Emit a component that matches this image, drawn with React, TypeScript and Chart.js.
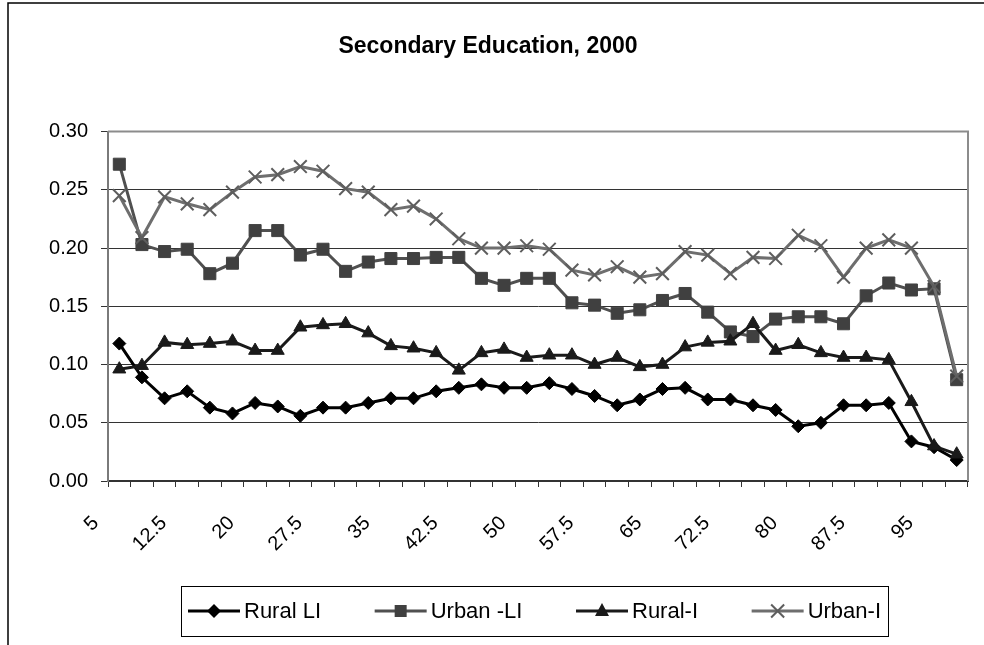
import React, { useEffect, useRef } from 'react';
import { Chart, registerables } from 'chart.js';

Chart.register(...registerables);

const TITLE = 'Secondary Education, 2000';

const categories = [
  '5', '7.5', '10', '12.5', '15', '17.5', '20', '22.5', '25', '27.5',
  '30', '32.5', '35', '37.5', '40', '42.5', '45', '47.5', '50', '52.5',
  '55', '57.5', '60', '62.5', '65', '67.5', '70', '72.5', '75', '77.5',
  '80', '82.5', '85', '87.5', '90', '92.5', '95', '97.5',
];

const ruralLI = [
  0.118, 0.089, 0.071, 0.077, 0.063, 0.058, 0.067, 0.064, 0.056, 0.063,
  0.063, 0.067, 0.071, 0.071, 0.077, 0.080, 0.083, 0.080, 0.080, 0.084,
  0.079, 0.073, 0.065, 0.070, 0.079, 0.080, 0.070, 0.070, 0.065, 0.061,
  0.047, 0.050, 0.065, 0.065, 0.067, 0.034, 0.029, 0.018,
];

const urbanLI = [
  0.272, 0.203, 0.197, 0.199, 0.178, 0.187, 0.215, 0.215, 0.194, 0.199,
  0.180, 0.188, 0.191, 0.191, 0.192, 0.192, 0.174, 0.168, 0.174, 0.174,
  0.153, 0.151, 0.144, 0.147, 0.155, 0.161, 0.145, 0.128, 0.124, 0.139,
  0.141, 0.141, 0.135, 0.159, 0.170, 0.164, 0.165, 0.087,
];

const ruralI = [
  0.096, 0.099, 0.119, 0.117, 0.118, 0.120, 0.112, 0.112, 0.132, 0.134,
  0.135, 0.127, 0.116, 0.114, 0.110, 0.095, 0.110, 0.113, 0.106, 0.108,
  0.108, 0.100, 0.106, 0.098, 0.100, 0.115, 0.119, 0.120, 0.135, 0.112,
  0.117, 0.110, 0.106, 0.106, 0.104, 0.068, 0.030, 0.023,
];

const urbanI = [
  0.245, 0.209, 0.244, 0.238, 0.233, 0.248, 0.261, 0.263, 0.270, 0.266,
  0.251, 0.248, 0.233, 0.236, 0.225, 0.208, 0.200, 0.200, 0.202, 0.199,
  0.181, 0.177, 0.184, 0.175, 0.178, 0.197, 0.194, 0.178, 0.192, 0.191,
  0.211, 0.202, 0.175, 0.200, 0.207, 0.200, 0.167, 0.090,
];

const seriesNames = ['Rural LI', 'Urban -LI', 'Rural-I', 'Urban-I'];
const yTicks = [0, 0.05, 0.1, 0.15, 0.2, 0.25, 0.3];

const FONT = '"Liberation Sans", Arial, sans-serif';

type Sym = 'diamond' | 'square' | 'triangle' | 'cross';
const styles: { line: string; marker: string; sym: Sym; radius: number; style: string }[] = [
  { line: '#000000', marker: '#000000', sym: 'diamond', radius: 6.5, style: 'rectRot' },
  { line: '#505050', marker: '#404040', sym: 'square', radius: 8.5, style: 'rect' },
  { line: '#1a1a1a', marker: '#1a1a1a', sym: 'triangle', radius: 7.5, style: 'triangle' },
  { line: '#6e6e6e', marker: '#5e5e5e', sym: 'cross', radius: 9, style: 'crossRot' },
];

function drawSymbol(ctx: CanvasRenderingContext2D, sym: Sym, x: number, y: number, color: string) {
  ctx.save();
  ctx.fillStyle = color;
  ctx.strokeStyle = color;
  ctx.beginPath();
  if (sym === 'diamond') {
    ctx.moveTo(x, y - 7); ctx.lineTo(x + 7, y); ctx.lineTo(x, y + 7); ctx.lineTo(x - 7, y);
    ctx.closePath(); ctx.fill();
  } else if (sym === 'square') {
    ctx.rect(x - 6, y - 6, 12, 12); ctx.fill();
  } else if (sym === 'triangle') {
    ctx.moveTo(x, y - 8); ctx.lineTo(x + 7, y + 5); ctx.lineTo(x - 7, y + 5);
    ctx.closePath(); ctx.fill();
  } else {
    ctx.lineWidth = 2;
    ctx.moveTo(x - 6.5, y - 6.5); ctx.lineTo(x + 6.5, y + 6.5);
    ctx.moveTo(x + 6.5, y - 6.5); ctx.lineTo(x - 6.5, y + 6.5);
    ctx.stroke();
  }
  ctx.restore();
}

const decorPlugin = {
  id: 'decor',
  beforeDraw(chart: any) {
    const ctx = chart.ctx as CanvasRenderingContext2D;
    ctx.save();
    ctx.fillStyle = '#ffffff';
    ctx.fillRect(0, 0, chart.width, chart.height);
    ctx.strokeStyle = '#000000';
    ctx.lineWidth = 1.5;
    ctx.beginPath();
    ctx.moveTo(8, chart.height + 5);
    ctx.lineTo(8, 3);
    ctx.lineTo(chart.width + 5, 3);
    ctx.stroke();
    ctx.restore();
  },
  beforeDatasetsDraw(chart: any) {
    const ctx = chart.ctx as CanvasRenderingContext2D;
    const a = chart.chartArea;
    ctx.save();
    ctx.strokeStyle = '#8c8c8c';
    ctx.lineWidth = 2;
    ctx.beginPath();
    ctx.moveTo(a.left, a.top);
    ctx.lineTo(a.right, a.top);
    ctx.lineTo(a.right, a.bottom);
    ctx.stroke();
    ctx.restore();
  },
  afterDraw(chart: any) {
    const ctx = chart.ctx as CanvasRenderingContext2D;
    const boxL = 181, boxT = 586, boxW = 707, boxH = 50;
    ctx.save();
    ctx.strokeStyle = '#000000';
    ctx.lineWidth = 1;
    ctx.strokeRect(boxL + 0.5, boxT + 0.5, boxW, boxH);
    ctx.font = '22px ' + FONT;
    ctx.textBaseline = 'middle';
    ctx.fillStyle = '#000000';
    const cy = boxT + boxH / 2;
    const lineLen = 52;
    const textGap = 4;
    const widths = seriesNames.map((n) => ctx.measureText(n).width);
    const used = widths.reduce((s, w) => s + w + lineLen + textGap, 0);
    const margin = 7;
    const gap = (boxW - 2 * margin - used) / 3;
    let x = boxL + margin;
    seriesNames.forEach((name, i) => {
      const st = styles[i];
      ctx.strokeStyle = st.line;
      ctx.lineWidth = 3;
      ctx.beginPath();
      ctx.moveTo(x, cy);
      ctx.lineTo(x + lineLen, cy);
      ctx.stroke();
      drawSymbol(ctx, st.sym, x + lineLen / 2, cy, st.marker);
      ctx.fillStyle = '#000000';
      ctx.fillText(name, x + lineLen + textGap, cy + 1);
      x += lineLen + textGap + widths[i] + gap;
    });
    ctx.restore();
  },
};

export default function App() {
  const ref = useRef<HTMLCanvasElement | null>(null);

  useEffect(() => {
    document.body.style.margin = '0';
    const canvas = ref.current;
    if (!canvas) return;
    const allSeries = [ruralLI, urbanLI, ruralI, urbanI];
    const chart = new Chart(canvas, {
      type: 'line',
      data: {
        labels: categories,
        datasets: allSeries.map((values, i) => ({
          label: seriesNames[i],
          data: values,
          borderColor: styles[i].line,
          backgroundColor: styles[i].marker,
          pointBackgroundColor: styles[i].marker,
          pointBorderColor: styles[i].marker,
          pointBorderWidth: styles[i].sym === 'cross' ? 2 : 1,
          pointStyle: styles[i].style as any,
          pointRadius: styles[i].radius,
          borderWidth: 3,
          tension: 0,
          fill: false,
          order: 4 - i,
        })),
      },
      options: {
        responsive: false,
        animation: false,
        devicePixelRatio: 1,
        layout: { padding: { left: 8, right: 16, top: 0, bottom: 54 } },
        plugins: {
          legend: { display: false },
          tooltip: { enabled: false },
          title: {
            display: true,
            text: TITLE,
            color: '#000000',
            font: { family: FONT, size: 23, weight: 'bold' },
            padding: { top: 33, bottom: 71 },
          },
        },
        scales: {
          x: {
            type: 'category',
            offset: true,
            grid: {
              offset: true,
              drawOnChartArea: false,
              drawTicks: true,
              tickLength: 6,
              color: '#333333',
              lineWidth: 1,
            },
            border: { display: true, color: '#333333', width: 2 },
            ticks: {
              autoSkip: false,
              maxRotation: 45,
              minRotation: 45,
              padding: 1,
              color: '#000000',
              font: { family: FONT, size: 20 },
              callback: (_v: any, i: number) => (i % 3 === 0 ? categories[i] + '      ' : ''),
            },
            afterFit: (s: any) => { s.height = 110; },
          },
          y: {
            min: 0,
            max: 0.3,
            afterBuildTicks: (s: any) => { s.ticks = yTicks.map((v) => ({ value: v })); },
            ticks: {
              padding: 13,
              color: '#000000',
              font: { family: FONT, size: 20 },
              callback: (v: any) => Number(v).toFixed(2),
            },
            grid: {
              color: (c: any) => (c.tick && c.tick.value >= 0.299 ? '#8c8c8c' : '#333333'),
              lineWidth: 1,
              drawTicks: true,
              tickLength: 7,
              tickColor: '#333333',
            },
            border: { display: true, color: '#7a7a7a', width: 2 },
            afterFit: (s: any) => { s.width = 100; },
          },
        },
      },
      plugins: [decorPlugin],
    });
    return () => chart.destroy();
  }, []);

  return (
    <div style={{ width: 984, height: 645 }}>
      <canvas ref={ref} width={984} height={645} style={{ display: 'block', width: 984, height: 645 }} />
    </div>
  );
}
